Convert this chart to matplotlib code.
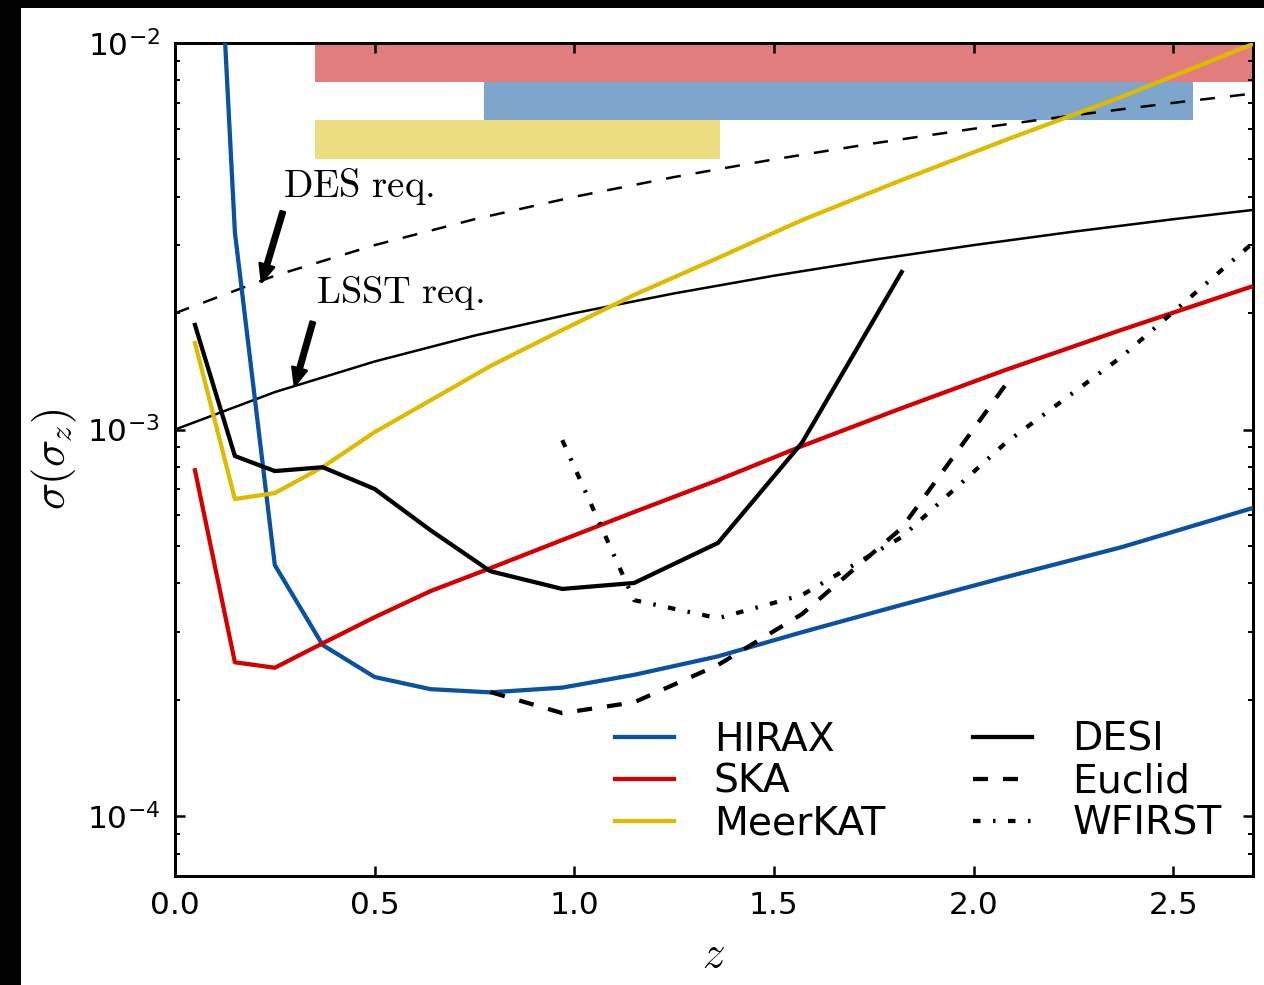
import matplotlib
matplotlib.use("Agg")
import matplotlib.pyplot as plt
from matplotlib.patches import Rectangle
import numpy as np

plt.rcParams['mathtext.fontset'] = 'cm'
plt.rcParams['lines.scale_dashes'] = False
plt.rcParams['font.family'] = ['DejaVu Sans']

# ---------------- data ----------------
z_grid = [0.05, 0.15, 0.25, 0.37, 0.5, 0.64, 0.79, 0.97, 1.15, 1.36, 1.57, 1.82, 2.08, 2.37, 2.7]

hirax = [0.33, 3.24e-3, 4.46e-4, 2.77e-4, 2.29e-4, 2.13e-4, 2.09e-4, 2.15e-4, 2.32e-4,
         2.59e-4, 2.99e-4, 3.52e-4, 4.15e-4, 4.96e-4, 6.27e-4]
ska = [7.85e-4, 2.50e-4, 2.42e-4, 2.80e-4, 3.27e-4, 3.82e-4, 4.38e-4, 5.18e-4, 6.12e-4,
       7.40e-4, 9.06e-4, 1.136e-3, 1.426e-3, 1.81e-3, 2.35e-3]
meerkat = [1.675e-3, 6.61e-4, 6.85e-4, 8.0e-4, 9.85e-4, 1.19e-3, 1.46e-3, 1.81e-3, 2.23e-3,
           2.78e-3, 3.48e-3, 4.42e-3, 5.61e-3, 7.25e-3, 9.94e-3]

z_desi = [0.05, 0.15, 0.25, 0.37, 0.5, 0.64, 0.79, 0.97, 1.15, 1.36, 1.57, 1.82]
desi = [1.865e-3, 8.54e-4, 7.81e-4, 7.99e-4, 7.02e-4, 5.49e-4, 4.30e-4, 3.87e-4, 4.01e-4,
        5.09e-4, 9.23e-4, 2.556e-3]

z_euclid = [0.79, 0.97, 1.15, 1.36, 1.57, 1.82, 2.08]
euclid = [2.094e-4, 1.847e-4, 1.97e-4, 2.46e-4, 3.33e-4, 5.56e-4, 1.304e-3]

z_wfirst = [0.97, 1.15, 1.36, 1.57, 1.82, 2.08, 2.37, 2.7]
wfirst = [9.39e-4, 3.62e-4, 3.25e-4, 3.73e-4, 5.27e-4, 9.23e-4, 1.54e-3, 3.04e-3]

z_req = [0.0, 0.25, 0.5, 0.75, 1.0, 1.25, 1.5, 1.75, 2.0, 2.25, 2.5, 2.7]
des_req = [2.0e-3, 2.5e-3, 3.0e-3, 3.5e-3, 4.0e-3, 4.5e-3, 5.0e-3, 5.5e-3, 6.0e-3, 6.5e-3, 7.0e-3, 7.4e-3]
lsst_req = [1.0e-3, 1.25e-3, 1.5e-3, 1.75e-3, 2.0e-3, 2.25e-3, 2.5e-3, 2.75e-3, 3.0e-3, 3.25e-3, 3.5e-3, 3.7e-3]

# survey redshift ranges (bands at the top)
band_names = ['SKA', 'HIRAX', 'MeerKAT']
band_zmin = [0.35, 0.775, 0.35]
band_zmax = [3.06, 2.55, 1.365]
band_ylo = [7.94e-3, 6.31e-3, 5.01e-3]
band_yhi = [1.0e-2, 7.94e-3, 6.31e-3]
band_colors = ['#e27d7d', '#7ea5cb', '#ecdc82']

c_hirax = '#0a52a0'
c_ska = '#d40000'
c_meerkat = '#dcbb00'

# ---------------- figure ----------------
W, H, DPI = 1264, 985, 180
fig = plt.figure(figsize=(W / DPI, H / DPI), dpi=DPI, facecolor='black')
fig.patches.append(Rectangle((21 / W, 0), 1 - 21 / W, 1 - 8 / H, transform=fig.transFigure,
                             facecolor='white', edgecolor='none', zorder=-10))

ax = fig.add_axes([175 / W, 1 - 876 / H, (1253 - 175) / W, (876 - 43) / H])
ax.set_yscale('log')
ax.set_xlim(0, 2.7)
ax.set_ylim(7e-5, 1e-2)

for zmin, zmax, ylo, yhi, col in zip(band_zmin, band_zmax, band_ylo, band_yhi, band_colors):
    ax.fill_between([zmin, zmax], [ylo, ylo], [yhi, yhi], color=col, lw=0, zorder=1)

ax.plot(z_req, des_req, color='black', lw=1.0, linestyle=(0, (6, 6)), zorder=2)
ax.plot(z_req, lsst_req, color='black', lw=1.0, zorder=2)

lw = 1.7
l1, = ax.plot(z_grid, hirax, color=c_hirax, lw=lw, label='HIRAX', zorder=3)
l2, = ax.plot(z_grid, ska, color=c_ska, lw=lw, label='SKA', zorder=3)
l3, = ax.plot(z_grid, meerkat, color=c_meerkat, lw=lw, label='MeerKAT', zorder=3)
l4, = ax.plot(z_desi, desi, color='black', lw=lw, label='DESI', zorder=3)
l5, = ax.plot(z_euclid, euclid, color='black', lw=lw, linestyle=(0, (6, 6)), label='Euclid', zorder=3)
l6, = ax.plot(z_wfirst, wfirst, color='black', lw=lw, linestyle=(0, (3, 5, 1, 5)), label='WFIRST', zorder=3)

# annotations
ax.text(0.27, 4.0e-3, r'$\mathrm{DES\ req.}$', fontsize=15.5, ha='left', va='baseline')
ax.annotate('', xy=(0.2175, 2.41e-3), xytext=(0.27, 3.66e-3),
            arrowprops=dict(facecolor='black', edgecolor='black', width=1.8, headwidth=6,
                            headlength=7, shrink=0))
ax.text(0.3525, 2.125e-3, r'$\mathrm{LSST\ req.}$', fontsize=15.4, ha='left', va='baseline')
ax.annotate('', xy=(0.30, 1.30e-3), xytext=(0.345, 1.897e-3),
            arrowprops=dict(facecolor='black', edgecolor='black', width=1.8, headwidth=6,
                            headlength=7, shrink=0))

# axes styling
ax.set_xticks([0.0, 0.5, 1.0, 1.5, 2.0, 2.5])
ax.tick_params(which='both', direction='in', top=True, right=True, labelsize=12.5)
ax.tick_params(which='major', length=4, width=1, pad=6)
ax.tick_params(which='minor', length=2, width=0.8)
ax.tick_params(axis='x', which='minor', bottom=False, top=False)
for s in ax.spines.values():
    s.set_linewidth(1.2)

ax.set_xlabel(r'$z$', fontsize=18, labelpad=5)
ax.set_ylabel(r'$\sigma(\sigma_z)$', fontsize=18, labelpad=3)

leg = ax.legend(handles=[l1, l2, l3, l4, l5, l6], ncol=2, frameon=False, fontsize=15.7,
                loc='upper left', bbox_to_anchor=(0.408, 0.1866), borderaxespad=0,
                borderpad=0, labelspacing=0.1, handlelength=1.5, handletextpad=1.02,
                columnspacing=2.25)

fig.savefig('out.png', dpi=DPI, facecolor=fig.get_facecolor())
